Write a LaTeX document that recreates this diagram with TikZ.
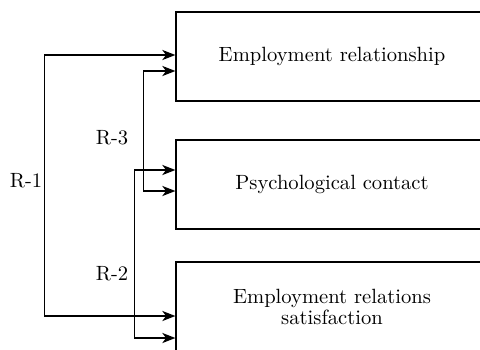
\documentclass[tikz,border=0pt]{standalone}
\usetikzlibrary{arrows.meta, positioning, calc}

\tikzset{
  factor/.style={draw, line width=0.6pt, minimum width=156pt, minimum height=44.5pt,
    align=center, inner sep=0pt, font=\fontsize{10.3}{10.5}\selectfont},
  feed/.style={line width=1pt, -{Stealth[length=6.5pt, width=5pt, inset=1.8pt]}},
  riser/.style={line width=0.5pt},
  rlabel/.style={inner sep=0pt, font=\fontsize{10.3}{12}\selectfont}
}

\begin{document}
\begin{tikzpicture}[x=0.5pt, y=-0.5pt]
  \useasboundingbox (0,0) rectangle (480,349);

  % the three boxes, partly cut off on the right
  \node[factor] (rel) at (332,56.5) {Employment relationship};
  \node[factor] (psy) at (332,184.5) {Psychological contact};
  \node[factor] (sat) at (332,306.5) {Employment relations\\satisfaction};

  % R-1
  \coordinate (r1a) at (44,55);
  \coordinate (r1b) at (44,316);
  \draw[riser] (r1a) -- (r1b);
  \draw[feed] (r1a) -- (r1a -| rel.west);
  \draw[feed] (r1b) -- (r1b -| sat.west);
  \node[rlabel] (r1) at (26,181) {R-1};

  % R-3
  \coordinate (r3a) at (143,71);
  \coordinate (r3b) at (143,191);
  \draw[riser] (r3a) -- (r3b);
  \draw[feed] (r3a) -- (r3a -| rel.west);
  \draw[feed] (r3b) -- (r3b -| psy.west);
  \node[rlabel] (r3) at (112,138) {R-3};

  % R-2
  \coordinate (r2a) at (134,170);
  \coordinate (r2b) at (134,338);
  \draw[riser] (r2a) -- (r2b);
  \draw[feed] (r2a) -- (r2a -| psy.west);
  \draw[feed] (r2b) -- (r2b -| sat.west);
  \node[rlabel] (r2) at (112,274) {R-2};
\end{tikzpicture}
\end{document}
